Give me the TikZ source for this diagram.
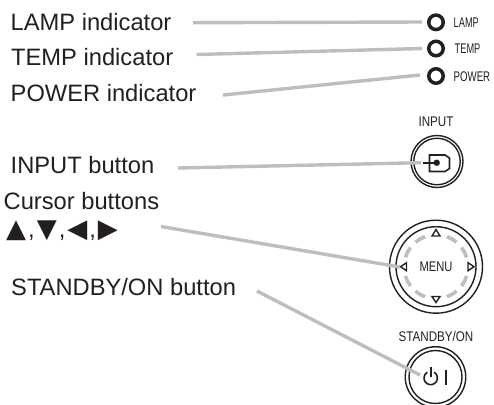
\documentclass[tikz,border=0pt]{standalone}
\usepackage{fontspec}
\usepackage{graphicx}
\usetikzlibrary{calc}
\setmainfont{Liberation Sans}
\newfontfamily\symfont{DejaVu Sans}
\definecolor{ink}{HTML}{231F20}
\definecolor{leader}{HTML}{BCBEC0}
\newcommand{\tri}[1]{\makebox[24bp]{\symfont\fontsize{26bp}{26bp}\selectfont #1}}
\tikzset{
  biglabel/.style={anchor=base west,inner sep=0pt,text=ink,font=\fontsize{23.7bp}{26bp}\selectfont},
  smalllabel/.style={anchor=base west,inner sep=0pt,text=ink,font=\fontsize{14bp}{16bp}\selectfont},
  smallmid/.style={anchor=base,inner sep=0pt,text=ink,font=\fontsize{14bp}{16bp}\selectfont},
  leaderline/.style={draw=leader,line width=3.4bp},
  led/.style={circle,draw=ink,line width=3.5bp,minimum size=14.5bp,inner sep=0pt},
  ring/.style={circle,draw=ink,line width=1.4bp,inner sep=0pt},
  icon/.style={draw=ink,line width=1.6bp},
  cursortri/.style={draw=ink,line width=1.4bp,fill=white,line join=miter},
  dashseg/.style={draw=leader,line width=3.6bp}
}
\begin{document}
\begin{tikzpicture}[x=1bp,y=-1bp]
\useasboundingbox (0,0) rectangle (494,404);
\clip (0,0) rectangle (494,404);
% main labels
\node[biglabel] (tlamp) at (10.5,30) {LAMP indicator};
\node[biglabel] (ttemp) at (11,65.7) {TEMP indicator};
\node[biglabel] (tpower) at (10.5,101.7) {POWER indicator};
\node[biglabel] (tinput) at (10.5,173.3) {INPUT button};
\node[biglabel] (tcursor) at (3.5,209.3) {Cursor buttons};
\node[biglabel] (tarrows) at (4,237.7) {\tri{▲},\tri{▼},\tri{◀},\tri{▶}};
\node[biglabel] (tstandby) at (11,295) {STANDBY/ON button};
% indicators
\node[led] (lamp) at (436,22.3) {};
\node[led] (temp) at (436,48.5) {};
\node[led] (power) at (436,76) {};
\node[smalllabel] (llamp) at (453.5,27.3) {\scalebox{.66}[1]{LAMP}};
\node[smalllabel] (ltemp) at (454.5,53.3) {\scalebox{.66}[1]{TEMP}};
\node[smalllabel] (lpower) at (453.5,81.7) {\scalebox{.69}[1]{POWER}};
% buttons
\node[smallmid] (linput) at (436,126.7) {\scalebox{.83}[1]{INPUT}};
\node[ring,minimum size=52bp] (input) at (437,161.5) {};
\node[ring,minimum size=46.5bp] (inputin) at (input) {};
\node[ring,minimum size=93bp] (menu) at (436,266.7) {};
\node[ring,minimum size=80bp] (menuin) at (menu) {};
\node[smallmid] (lmenu) at (436,271.7) {\scalebox{.8}[1]{MENU}};
\node[smallmid] (lstandby) at (436,341.7) {\scalebox{.83}[1]{STANDBY/ON}};
\node[ring,minimum size=60.5bp] (standby) at (435.5,377) {};
\node[ring,minimum size=53bp] (standbyin) at (standby) {};
% dashes of the cursor ring
\foreach \a in {17,50,110,143,197,230,290,323}
  \draw[dashseg] ($(menu)+(\a:32)$) arc[start angle=\a,end angle=\a+20,radius=32];
% cursor triangles
\draw[cursortri] (436,229.5) -- (440,236) -- (432,236) -- cycle;
\draw[cursortri] (436,302.5) -- (440,296.5) -- (432,296.5) -- cycle;
\draw[cursortri] (400.5,266.7) -- (406.5,262.7) -- (406.5,270.7) -- cycle;
\draw[cursortri] (474,266.7) -- (468,262.7) -- (468,270.7) -- cycle;
% input icon
\draw[icon] (429.5,155) -- (445,155) -- (449.5,158) -- (449.5,168.5) -- (445,171.5) -- (429.5,171.5) -- cycle;
\fill[ink] (436.7,162.7) circle (3.2bp);
\draw[icon] (423,162.7) -- (436.7,162.7);
% power icon
\draw[icon] (434.05,372.2) arc[start angle=-60,end angle=240,radius=6.7];
\draw[icon] (431,366.5) -- (431,377);
\draw[icon] (446,370) -- (446,385);
% connector ends
\coordinate (a1) at (193,22.7); \coordinate (b1) at (422,22);
\coordinate (a2) at (196.5,54.5); \coordinate (b2) at (422,48.5);
\coordinate (a3) at (223,95); \coordinate (b3) at (420,75);
\coordinate (a4) at (178,168); \coordinate (b4) at (421,162.7);
\coordinate (a5) at (161,226.5); \coordinate (b5) at (400,267);
\coordinate (a6) at (257,291); \coordinate (b6) at (420,375);
\draw[leaderline] (a1) -- (b1);
\draw[leaderline] (a2) -- (b2);
\draw[leaderline] (a3) -- (b3);
\draw[leaderline] (a4) -- (b4);
\draw[leaderline] (a5) -- (b5);
\draw[leaderline] (a6) -- (b6);
\end{tikzpicture}
\end{document}
